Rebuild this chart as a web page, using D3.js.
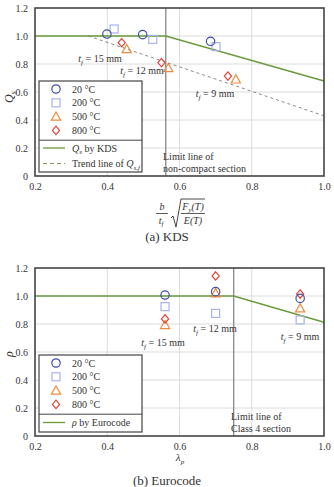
<!DOCTYPE html>
<html>
<head>
<meta charset="utf-8">
<style>
body { margin: 0; background: #fff; }
svg { font-family: "Liberation Serif", "Times New Roman", serif; }
.grid line { stroke: #dcdcdc; stroke-width: 1; }
.tick text { font-size: 10px; fill: #333; }
</style>
</head>
<body>
<div id="chart"></div>
<script src="https://cdn.jsdelivr.net/npm/d3@7/dist/d3.min.js"></script>
<script>
// temperatures (series)
var temps = ["20 \u00b0C", "200 \u00b0C", "500 \u00b0C", "800 \u00b0C"];
var shapes = ["circle", "square", "triangle", "diamond"];
var colors = ["#3f4fa8", "#a8b2f0", "#ee8a3c", "#e5443c"];

// (a) KDS: x = slenderness, one array per temperature
var kdsX = [
  [0.399, 0.498, 0.686],
  [0.419, 0.526, 0.701],
  [0.454, 0.569, 0.756],
  [0.440, 0.550, 0.734]
];
var kdsY = [
  [1.014, 1.010, 0.962],
  [1.050, 0.976, 0.924],
  [0.907, 0.771, 0.690],
  [0.952, 0.810, 0.714]
];
var kdsLineX = [0.2, 0.562, 1.0];
var kdsLineY = [1.0, 1.0, 0.679];
var trendX = [0.348, 1.0];
var trendY = [1.0, 0.43];
var kdsLimit = 0.562;

// (b) Eurocode
var euroX = [0.56, 0.70, 0.934];
var euroY = [
  [1.007, 1.031, 0.983],
  [0.924, 0.876, 0.829],
  [0.793, 1.020, 0.912],
  [0.836, 1.143, 1.014]
];
var euroLineX = [0.2, 0.75, 1.0];
var euroLineY = [1.0, 1.0, 0.812];
var euroLimit = 0.75;

var xTicks = [0.2, 0.4, 0.6, 0.8, 1.0];
var yTicks = [0, 0.2, 0.4, 0.6, 0.8, 1.0, 1.2];

var svg = d3.select("#chart").append("svg")
    .attr("width", 334)
    .attr("height", 487);

var x = d3.scaleLinear().domain([0.2, 1.0]).range([35, 324]);

function symbol(g, i, cx, cy) {
  var c = colors[i], s = shapes[i];
  var el;
  if (s == "circle") {
    el = g.append("circle").attr("cx", cx).attr("cy", cy).attr("r", 4.2);
  } else if (s == "square") {
    el = g.append("rect").attr("x", cx - 4).attr("y", cy - 4).attr("width", 8).attr("height", 8);
  } else if (s == "triangle") {
    el = g.append("path").attr("d", "M" + cx + "," + (cy - 4.6) + "L" + (cx + 4.6) + "," + (cy + 3.6) + "L" + (cx - 4.6) + "," + (cy + 3.6) + "Z");
  } else {
    el = g.append("path").attr("d", "M" + cx + "," + (cy - 4.2) + "L" + (cx + 3.6) + "," + cy + "L" + cx + "," + (cy + 4.2) + "L" + (cx - 3.6) + "," + cy + "Z");
  }
  el.attr("fill", "none").attr("stroke", c).attr("stroke-width", 1.2);
}

function tfLabel(g, tx, ty, val) {
  var t = g.append("text").attr("x", tx).attr("y", ty)
      .attr("text-anchor", "middle").style("font-size", "10px").attr("fill", "#333");
  t.append("tspan").style("font-style", "italic").text("t");
  t.append("tspan").style("font-style", "italic").style("font-size", "7px").attr("dy", 2.5).text("f");
  t.append("tspan").attr("dy", -2.5).text(" = " + val + " mm");
}

function panel(top, yScale) {
  var g = svg.append("g");
  var y = yScale;

  // grid
  var grid = g.append("g").attr("class", "grid");
  grid.selectAll(".gx").data(xTicks.slice(1, -1)).enter().append("line")
      .attr("x1", d => x(d)).attr("x2", d => x(d))
      .attr("y1", y(1.2)).attr("y2", y(0));
  grid.selectAll(".gy").data(yTicks.slice(1, -1)).enter().append("line")
      .attr("x1", x(0.2)).attr("x2", x(1.0))
      .attr("y1", d => y(d)).attr("y2", d => y(d));

  // axes (labels only)
  var xa = g.append("g").attr("transform", "translate(0," + y(0) + ")")
      .call(d3.axisBottom(x).tickValues(xTicks).tickSize(0).tickPadding(7).tickFormat(d3.format(".1f")));
  xa.select(".domain").remove();
  xa.attr("font-family", null).attr("font-size", null);
  var ya = g.append("g").attr("transform", "translate(" + x(0.2) + ",0)")
      .call(d3.axisLeft(y).tickValues(yTicks).tickSize(0).tickPadding(7)
        .tickFormat(d => d == 0 ? "0" : d3.format(".1f")(d)));
  ya.select(".domain").remove();
  ya.attr("font-family", null).attr("font-size", null);

  return g;
}

function frame(g, y) {
  g.append("rect")
      .attr("x", x(0.2)).attr("y", y(1.2))
      .attr("width", x(1.0) - x(0.2)).attr("height", y(0) - y(1.2))
      .attr("fill", "none").attr("stroke", "#444").attr("stroke-width", 1.6);
}

function legend(g, lx, ly, w, h, lines) {
  g.append("rect").attr("x", lx).attr("y", ly).attr("width", w).attr("height", h)
      .attr("fill", "#fff").attr("stroke", "#444").attr("stroke-width", 1.2);
  temps.forEach(function(t, i) {
    var yy = ly + 8 + i * 13.8;
    symbol(g, i, lx + 17, yy);
    g.append("text").attr("x", lx + 33).attr("y", yy + 3.5)
        .style("font-size", "10px").attr("fill", "#333").text(t);
  });
  var dy = ly + 8 + 4 * 13.8 - 4;
  g.append("line").attr("x1", lx).attr("x2", lx + w).attr("y1", dy).attr("y2", dy)
      .attr("stroke", "#444").attr("stroke-width", 1);
  return dy;
}

// ---------- (a) KDS ----------
var y1 = d3.scaleLinear().domain([0, 1.2]).range([176, 8]);
var g1 = panel(0, y1);

g1.append("line").attr("x1", x(kdsLimit)).attr("x2", x(kdsLimit))
    .attr("y1", y1(1.2)).attr("y2", y1(0)).attr("stroke", "#888").attr("stroke-width", 1.3);

var line = d3.line();
g1.append("path")
    .attr("d", line(kdsLineX.map((d, i) => [x(d), y1(kdsLineY[i])])))
    .attr("fill", "none").attr("stroke", "#6a9a3c").attr("stroke-width", 1.5);
g1.append("path")
    .attr("d", line(trendX.map((d, i) => [x(d), y1(trendY[i])])))
    .attr("fill", "none").attr("stroke", "#8a8a8a").attr("stroke-width", 1).attr("stroke-dasharray", "3,3");

[1, 0, 2, 3].forEach(function(i) {
  kdsX[i].forEach(function(d, j) { symbol(g1, i, x(d), y1(kdsY[i][j])); });
});

tfLabel(g1, 100, 62, 15);
tfLabel(g1, 142, 74, 12);
tfLabel(g1, 215, 97, 9);

var dv1 = legend(g1, 39, 81, 103, 91);
g1.append("line").attr("x1", 43).attr("x2", 65).attr("y1", 148).attr("y2", 148)
    .attr("stroke", "#6a9a3c").attr("stroke-width", 1.3);
var lt1 = g1.append("text").attr("x", 72).attr("y", 151.5).style("font-size", "10px").attr("fill", "#333");
lt1.append("tspan").style("font-style", "italic").text("Q");
lt1.append("tspan").style("font-style", "italic").style("font-size", "7px").attr("dy", 2.5).text("s");
lt1.append("tspan").attr("dy", -2.5).text(" by KDS");
g1.append("line").attr("x1", 43).attr("x2", 65).attr("y1", 163.5).attr("y2", 163.5)
    .attr("stroke", "#8a9a5a").attr("stroke-width", 1.2).attr("stroke-dasharray", "4,3");
var lt2 = g1.append("text").attr("x", 72).attr("y", 167).style("font-size", "10px").attr("fill", "#333");
lt2.append("tspan").text("Trend line of ");
lt2.append("tspan").style("font-style", "italic").text("Q");
lt2.append("tspan").style("font-style", "italic").style("font-size", "7px").attr("dy", 2.5).text("s,f");

g1.append("text").attr("x", 163).attr("y", 160).style("font-size", "10px").attr("fill", "#333").text("Limit line of");
g1.append("text").attr("x", 163).attr("y", 171.5).style("font-size", "10px").attr("fill", "#333").text("non-compact section");
frame(g1, y1);

// y label Q_s
var ql = g1.append("text").attr("transform", "translate(13,97) rotate(-90)")
    .attr("text-anchor", "middle").style("font-size", "12px").attr("fill", "#333");
ql.append("tspan").style("font-style", "italic").text("Q");
ql.append("tspan").style("font-style", "italic").style("font-size", "8px").attr("dy", 3).text("s");

// x label: b/t_f sqrt(Fy(T)/E(T))
var xl = g1.append("g").attr("fill", "#333").style("font-size", "10px").style("font-style", "italic");
xl.append("text").attr("x", 162).attr("y", 210).attr("text-anchor", "middle").text("b");
xl.append("line").attr("x1", 156).attr("x2", 168).attr("y1", 213.5).attr("y2", 213.5).attr("stroke", "#333").attr("stroke-width", 0.8);
var tf = xl.append("text").attr("x", 161).attr("y", 224).attr("text-anchor", "middle");
tf.append("tspan").text("t");
tf.append("tspan").style("font-size", "7px").attr("dy", 2).text("f");
xl.append("path").attr("d", "M171,218 L173,216 L176,227 L181,199 L205,199")
    .attr("fill", "none").attr("stroke", "#333").attr("stroke-width", 0.9);
var fy = xl.append("text").attr("x", 193).attr("y", 210).attr("text-anchor", "middle");
fy.append("tspan").text("F");
fy.append("tspan").style("font-size", "7px").attr("dy", 2).text("y");
fy.append("tspan").attr("dy", -2).text("(T)");
xl.append("line").attr("x1", 181).attr("x2", 205).attr("y1", 213.5).attr("y2", 213.5).attr("stroke", "#333").attr("stroke-width", 0.8);
xl.append("text").attr("x", 193).attr("y", 224).attr("text-anchor", "middle").text("E(T)");

svg.append("text").attr("x", 167).attr("y", 241).attr("text-anchor", "middle")
    .style("font-size", "13px").attr("fill", "#333").text("(a) KDS");

// ---------- (b) Eurocode ----------
var y2 = d3.scaleLinear().domain([0, 1.2]).range([436, 268]);
var g2 = panel(0, y2);

g2.append("line").attr("x1", x(euroLimit)).attr("x2", x(euroLimit))
    .attr("y1", y2(1.2)).attr("y2", y2(0)).attr("stroke", "#888").attr("stroke-width", 1.3);
g2.append("path")
    .attr("d", line(euroLineX.map((d, i) => [x(d), y2(euroLineY[i])])))
    .attr("fill", "none").attr("stroke", "#6a9a3c").attr("stroke-width", 1.5);

[1, 2, 3, 0].forEach(function(i) {
  euroX.forEach(function(d, j) { symbol(g2, i, x(d), y2(euroY[i][j])); });
});

tfLabel(g2, 163, 346, 15);
tfLabel(g2, 215, 332, 12);
tfLabel(g2, 300, 340, 9);

legend(g2, 39, 355, 103, 77);
g2.append("line").attr("x1", 43).attr("x2", 65).attr("y1", 422.5).attr("y2", 422.5)
    .attr("stroke", "#6a9a3c").attr("stroke-width", 1.3);
var lt3 = g2.append("text").attr("x", 72).attr("y", 426).style("font-size", "10px").attr("fill", "#333");
lt3.append("tspan").style("font-style", "italic").text("\u03c1");
lt3.append("tspan").text(" by Eurocode");

g2.append("text").attr("x", 231).attr("y", 420).style("font-size", "10px").attr("fill", "#333").text("Limit line of");
g2.append("text").attr("x", 231).attr("y", 432).style("font-size", "10px").attr("fill", "#333").text("Class 4 section");
frame(g2, y2);

g2.append("text").attr("transform", "translate(13,354) rotate(-90)")
    .attr("text-anchor", "middle").style("font-size", "12px").style("font-style", "italic")
    .attr("fill", "#333").text("\u03c1");

var lp = g2.append("text").attr("x", 180).attr("y", 461).attr("text-anchor", "middle")
    .style("font-size", "11px").style("font-style", "italic").attr("fill", "#333");
lp.append("tspan").text("\u03bb");
lp.append("tspan").style("font-size", "7px").attr("dy", 2.5).text("p");

svg.append("text").attr("x", 167).attr("y", 485).attr("text-anchor", "middle")
    .style("font-size", "13px").attr("fill", "#333").text("(b) Eurocode");
</script>
</body>
</html>
